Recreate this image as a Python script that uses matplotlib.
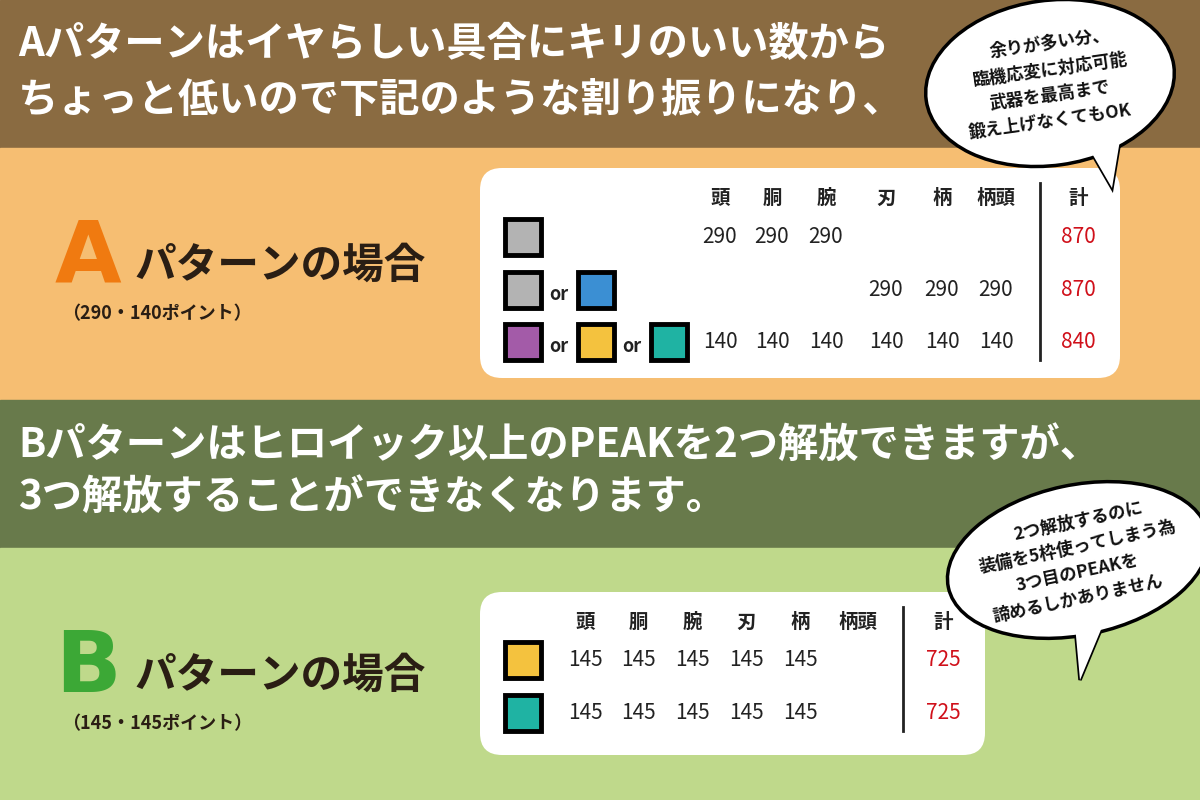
import matplotlib
matplotlib.use("Agg")
import matplotlib.pyplot as plt
from matplotlib.patches import Rectangle, FancyBboxPatch, Ellipse, Polygon

FONT = "Noto Sans CJK JP"
plt.rcParams["font.family"] = FONT

headline_a = ["Aパターンはイヤらしい具合にキリのいい数から", "ちょっと低いので下記のような割り振りになり、"]
headline_b = ["Bパターンはヒロイック以上のPEAKを2つ解放できますが、", "3つ解放することができなくなります。"]
bubble_a = ["余りが多い分、", "臨機応変に対応可能", "武器を最高まで", "鍛え上げなくてもOK"]
bubble_b = ["2つ解放するのに", "装備を5枠使ってしまう為", "3つ目のPEAKを", "諦めるしかありません"]
headers = ["頭", "胴", "腕", "刃", "柄", "柄頭"]
a_rows = [["290", "290", "290", "", "", ""],
          ["", "", "", "290", "290", "290"],
          ["140", "140", "140", "140", "140", "140"]]
a_totals = ["870", "870", "840"]
a_squares = [["#B3B3B3"], ["#B3B3B3", "#3B8FD3"], ["#A35BA8", "#F4C23E", "#1FB3A3"]]
b_rows = [["145", "145", "145", "145", "145", ""],
          ["145", "145", "145", "145", "145", ""]]
b_totals = ["725", "725"]
b_squares = [["#F4C23E"], ["#1FB3A3"]]

fig = plt.figure(figsize=(12, 8), dpi=100)
ax = fig.add_axes([0, 0, 1, 1])
ax.set_xlim(0, 1200); ax.set_ylim(800, 0); ax.axis("off")

for y0, h, c in [(0, 148, "#8A6B41"), (148, 252, "#F6BE72"), (400, 148, "#687A4B"), (548, 252, "#BFD98B")]:
    ax.add_patch(Rectangle((0, y0), 1200, h, color=c, zorder=0))

for i, t in enumerate(headline_a):
    ax.text(18, 45 + 55 * i, t, color="white", fontsize=29, fontweight="bold", va="center")
for i, t in enumerate(headline_b):
    ax.text(18, 445 + 52 * i, t, color="white", fontsize=29, fontweight="bold", va="center")

def title(letter, lc, y, sub):
    ax.text(55, y, letter, color=lc, fontsize=62, fontweight="bold", va="center", family="DejaVu Sans")
    ax.text(135, y + 8, "パターンの場合", color="#2A1E14", fontsize=30, fontweight="bold", va="center")
    ax.text(62, y + 56, sub, color="#2A1E14", fontsize=13, fontweight="bold", va="center")

title("A", "#F07A10", 258, "（290・140ポイント）")
title("B", "#3CA836", 668, "（145・145ポイント）")

def table(x0, y0, w, h, colx, linex, totx, hy, rowy, rows, totals, squares):
    ax.add_patch(FancyBboxPatch((x0, y0), w, h, boxstyle="round,pad=0,rounding_size=22",
                                fc="white", ec="none", zorder=1))
    for cx, hd in zip(colx, headers):
        ax.text(cx, hy, hd, ha="center", va="center", fontsize=14, fontweight="bold", color="#222", zorder=3)
    ax.text(totx, hy, "計", ha="center", va="center", fontsize=14, fontweight="bold", color="#222", zorder=3)
    ax.plot([linex, linex], [hy - 15, rowy[-1] + 18], color="#222", lw=2, zorder=3)
    for ry, vals, tot, sq in zip(rowy, rows, totals, squares):
        for cx, v in zip(colx, vals):
            ax.text(cx, ry, v, ha="center", va="center", fontsize=15, color="#222", zorder=3)
        ax.text(totx, ry, tot, ha="center", va="center", fontsize=15, color="#D0101A", zorder=3)
        sx = 505
        for k, c in enumerate(sq):
            if k > 0:
                ax.text(sx + 1, ry + 4, "or", ha="center", va="center", fontsize=13, fontweight="bold", color="#222", zorder=4)
                sx += 20
            ax.add_patch(Rectangle((sx, ry - 18), 36, 36, fc=c, ec="black", lw=3.5, zorder=3))
            sx += 53

table(480, 168, 640, 210, [720, 772, 826, 886, 942, 996], 1040, 1078, 198,
      [237, 290, 342], a_rows, a_totals, a_squares)
table(480, 592, 505, 163, [585, 638, 692, 746, 800, 858], 903, 943, 622,
      [660, 713], b_rows, b_totals, b_squares)

def bubble(cx, cy, w, h, ang, tail, lines, fs):
    ax.add_patch(Polygon(tail, closed=True, fc="white", ec="black", lw=2.5, zorder=4))
    ax.add_patch(Ellipse((cx, cy), w, h, angle=ang, fc="white", ec="black", lw=2.5, zorder=5))
    ax.add_patch(Polygon(tail, closed=True, fc="white", ec="none", zorder=6))
    n = len(lines)
    for i, t in enumerate(lines):
        ax.text(cx, cy + (i - (n - 1) / 2) * 26, t, ha="center", va="center", fontsize=fs,
                fontweight="bold", rotation=-ang, color="#111", zorder=7)

bubble(1050, 83, 250, 165, -8, [(1090, 150), (1112, 188), (1120, 140)], bubble_a, 12.5)
bubble(1078, 560, 265, 150, -12, [(1075, 625), (1080, 680), (1105, 620)], bubble_b, 12.5)

fig.savefig("out.png", dpi=100)
